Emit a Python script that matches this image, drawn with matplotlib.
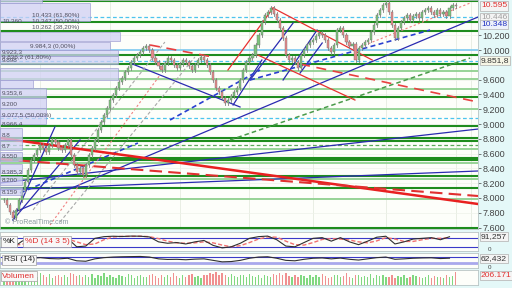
import matplotlib
matplotlib.use('Agg')
import matplotlib.pyplot as plt
import matplotlib.transforms as mtransforms
from matplotlib.patches import Rectangle

plt.rcParams['font.family'] = ['Liberation Sans', 'DejaVu Sans']

# daily closes (index points)
closes = [7973, 7906, 7811, 7730, 7838, 7973, 8108, 8217,
          8379, 8514, 8581, 8649, 8716, 8676, 8622, 8716, 8784, 8757, 8676, 8649, 8716, 8784,
          8581, 8446, 8352, 8406, 8311, 8446,
          8581, 8676, 8784, 8919, 9027, 9122, 9216, 9325, 9392, 9487, 9568, 9622, 9703, 9757,
          9838, 9892, 9932, 9973, 10027, 10054, 10000,
          9892, 9838, 9784, 9730, 9824, 9892, 9865, 9797, 9757, 9811, 9865, 9838, 9784, 9730,
          9797, 9865, 9905, 9865, 9797,
          9703, 9595, 9487, 9433, 9352, 9284, 9325, 9379, 9433, 9487, 9595,
          9730, 9838, 9892, 9932, 10068, 10203, 10378, 10473, 10514, 10567,
          10486, 10405, 10297, 10162, 9932, 9865, 9892, 9838, 9757,
          9932, 10000, 10068, 10108, 10135, 10189, 10230, 10203, 10135, 10027, 9973, 10068,
          10270, 10297,
          10203, 10108, 10054, 10081, 9865, 10027, 10068, 10108, 10135,
          10243, 10338, 10473, 10540, 10608, 10635, 10514, 10338, 10162,
          10297, 10378, 10432, 10473, 10405, 10459, 10486, 10432, 10514, 10540, 10567, 10514,
          10473, 10540, 10486, 10514, 10459, 10567, 10608, 10595]

# volume, thousands
vols = [150, 120, 180, 160, 140, 130, 170, 150, 110, 160,
        140, 120, 180, 150, 130, 170, 110, 140, 160, 120,
        150, 130, 190, 170, 140, 160, 120, 150, 130, 170,
        110, 160, 140, 180, 120, 150, 130, 100, 160, 140,
        120, 170, 150, 110, 140, 160, 130, 120, 150, 170,
        140, 110, 160, 130, 150, 120, 180, 140, 100, 160,
        130, 150, 170, 120, 140, 110, 160, 150, 190, 170,
        200, 160, 180, 150, 130, 170, 140, 120, 160, 150,
        130, 170, 140, 120, 160, 110, 150, 140, 130, 170,
        160, 180, 150, 190, 140, 130, 160, 120, 150, 140,
        110, 160, 130, 150, 120, 170, 140, 100, 130, 160,
        150, 120, 140, 180, 130, 110, 160, 150, 120, 140,
        130, 170, 110, 150, 140, 160, 120, 130, 150, 100,
        140, 120, 160, 110, 130, 150, 140, 120, 100, 130,
        150, 110, 140, 120, 130, 100, 150, 120, 140, 206]

# stochastic %K / %D and RSI, one value every 3 sessions
k_line = [40, 15, 60, 85, 90, 75, 70, 80, 20, 25, 80, 92, 95, 93, 96, 95, 90, 55, 45, 50,
          40, 55, 65, 30, 12, 20, 45, 80, 92, 96, 70, 25, 20, 50, 80, 85, 60, 85, 55, 35,
          60, 88, 95, 40, 55, 75, 80, 85, 70, 91.257]
d_line = [45, 30, 38, 55, 80, 85, 78, 75, 55, 35, 40, 70, 90, 94, 94, 95, 92, 78, 60, 48,
          45, 48, 55, 48, 32, 20, 28, 50, 75, 90, 88, 60, 35, 32, 50, 72, 78, 75, 68, 55,
          48, 62, 85, 75, 58, 58, 70, 80, 80, 85]
rsi_line = [45, 35, 50, 62, 66, 60, 58, 62, 45, 42, 58, 66, 70, 72, 73, 74, 70, 58, 54, 55,
            52, 56, 58, 48, 38, 40, 48, 62, 70, 72, 62, 48, 45, 55, 62, 64, 58, 63, 55, 50,
            58, 66, 70, 55, 58, 62, 64, 65, 60, 62.432]

# horizontal levels
levels_dark = [10666, 10378, 10257, 9932, 9811, 9365, 8973, 8811, 8770, 8541, 8514,
               8297, 8135, 7595]
levels_light = [9716, 9608, 9473, 9203, 8662, 8473, 8257, 7986]
levels_fib = [10446, 9851.8, 9077.5]
level_round = 10000

# trendlines: (i0, p0, i1, p1)
blue_lines = [(3.6, 7811, 156.4, 10446), (3.0, 7703, 16.8, 8959), (3.0, 7703, 25.1, 8784),
              (-1.3, 8203, 156.4, 8932), (-1.3, 8108, 156.4, 8365), (41.6, 9824, 77.9, 9230),
              (75.6, 9257, 85.1, 9865), (81.2, 9595, 95.4, 10365), (92.1, 9595, 103.3, 10270),
              (97.7, 9689, 105.0, 10095)]
blue_dashed = [(54.8, 9054, 84.5, 9730), (81.2, 9595, 140.6, 10270), (5.3, 8068, 44.2, 8743)]
red_lines = [(73.9, 9730, 88.8, 10568), (88.8, 10568, 121.5, 9865), (83.8, 9932, 115.8, 9324)]
red_dashed = [(97.7, 9811, 156.4, 9297), (48.2, 10068, 69.0, 9905)]
red_dotted = [(15.2, 7635, 51.5, 9662), (117.5, 10041, 153.8, 10635)]
gray_dashed = [(9.6, 7838, 53.1, 10108), (18.5, 7676, 63.0, 9905)]
green_dashed = [(74.6, 8784, 153.8, 9892)]

# fibonacci label boxes: (right edge px, top price, bottom price, texts)
fib_boxes = [(42, 10703, 10635, []),
             (90, 10635, 10392, [(2, 10392, '10.360'), (32, 10473, '10.433 (61,80%)'),
                                 (32, 10392, '10.347 (50,00%)'), (32, 10311, '10.262 (38,20%)')]),
             (120, 10243, 10122, []),
             (110, 10108, 10000, [(30, 10054, '9.984,3 (0,00%)')]),
             (118, 10000, 9919, [(2, 9980, '9.923,3')]),
             (118, 9919, 9811, [(2, 9905, '9.836,2 (61,80%)'), (2, 9862, '9.898')]),
             (118, 9757, 9595, []),
             (33, 9595, 9486, []),
             (46, 9486, 9351, [(2, 9420, '9.353,6')]),
             (46, 9351, 9216, [(2, 9270, '9.200')]),
             (46, 9216, 9108, [(2, 9120, '9.077,5 (50,00%)')]),
             (46, 9108, 9000, [(2, 9000, '8.966,4')]),
             (22, 8946, 8784, [(2, 8840, '8.8')]),
             (22, 8784, 8649, [(2, 8700, '8.7')]),
             (22, 8622, 8500, [(2, 8555, '8.550')]),
             (22, 8460, 8340, [(2, 8360, '8.385,3')]),
             (22, 8300, 8180, [(2, 8230, '8.200')]),
             (22, 8150, 8040, [(2, 8080, '8.159')])]

W, H = 512, 288
fig = plt.figure(figsize=(W / 100, H / 100), dpi=100)
fig.patch.set_facecolor('#e4f8f8')
plot_w = 478 / W
xlim = (-1.3, 156.4)


def panel(y_top, y_bot):
    ax = fig.add_axes([0, 1 - y_bot / H, plot_w, (y_bot - y_top) / H])
    ax.set_facecolor('#fdfefa')
    ax.set_xlim(*xlim)
    for s in ax.spines.values():
        s.set_color('#b8c4c4')
        s.set_linewidth(0.6)
    ax.set_xticks([])
    ax.yaxis.tick_right()
    ax.tick_params(axis='y', labelsize=6.5, colors='#444', length=2, pad=1, width=0.5)
    return ax


def badge(ax, y, text, color='#333', face='#f4f4f4', size=6.1):
    ax.text(1.006, y, text, transform=mtransforms.blended_transform_factory(ax.transAxes, ax.transData),
            fontsize=size, color=color, va='center', ha='left', clip_on=False,
            bbox=dict(boxstyle='square,pad=0.12', fc=face, ec='#b0b0b0', lw=0.5))


ax = panel(0, 229)
ax.set_ylim(7581, 10676)
ticks = [7600, 7800, 8000, 8200, 8400, 8600, 8800, 9000, 9200, 9400, 9600, 10000, 10200]
ax.set_yticks(ticks)
ax.set_yticklabels([f'{t:,.0f}'.replace(',', '.') for t in ticks])
for gx in [12, 35, 58, 81, 102, 126, 149, 154]:
    ax.axvline(gx, color='#e6ece0', lw=0.6, zorder=0)
for t in ticks:
    ax.axhline(t, color='#eef2ea', lw=0.5, zorder=0)

for lv in levels_light:
    ax.axhline(lv, color='#8fd08f', lw=1.3, zorder=1)
for lv in levels_dark:
    ax.axhline(lv, color='#1e8c1e', lw=1.5, zorder=1)
for lv in levels_fib:
    ax.axhline(lv, color='#4cc4ee', lw=0.9, ls=(0, (3, 2)), zorder=1)
ax.axhline(level_round, color='#7cc8f0', lw=1.2, zorder=1)
ax.axhline(8716, color='#5aa85a', lw=0.9, ls=(0, (3, 2)), zorder=1)

for seg in blue_lines:
    ax.plot(seg[0::2], seg[1::2], color='#2a2ab0', lw=0.9, zorder=2)
for seg in blue_dashed:
    ax.plot(seg[0::2], seg[1::2], color='#2a40d0', lw=1.2, ls=(0, (3, 2)), zorder=2)
for seg in red_lines:
    ax.plot(seg[0::2], seg[1::2], color='#e83030', lw=0.9, zorder=2)
for seg in red_dashed:
    ax.plot(seg[0::2], seg[1::2], color='#e84040', lw=1.2, ls=(0, (6, 4)), zorder=2)
for seg in red_dotted:
    ax.plot(seg[0::2], seg[1::2], color='#f08080', lw=0.8, ls=(0, (2, 2)), zorder=2)
for seg in gray_dashed:
    ax.plot(seg[0::2], seg[1::2], color='#a8a8a8', lw=0.8, ls=(0, (3, 2)), zorder=2)
for seg in green_dashed:
    ax.plot(seg[0::2], seg[1::2], color='#4a9a4a', lw=1.1, ls=(0, (3, 2)), zorder=2)
ax.plot([-1.3, 156.4], [8811, 7919], color='#e82020', lw=1.8, zorder=2)
ax.plot([-1.3, 156.4], [8527, 8027], color='#e03030', lw=1.5, ls=(0, (6, 3)), zorder=2)

# candles
opens = [closes[0]] + closes[:-1]
for i, (o, c) in enumerate(zip(opens, closes)):
    up = c >= o
    lo, hi = min(o, c), max(o, c)
    ax.plot([i, i], [lo - 30, hi + 30], color='#808080', lw=0.6, zorder=3)
    ax.add_patch(Rectangle((i - 0.35, lo), 0.7, max(hi - lo, 6),
                           fc='#7cc47c' if up else '#e88a8a', ec='#707070', lw=0.3, zorder=4))

# fibonacci boxes on the left
bt = mtransforms.blended_transform_factory(ax.transAxes, ax.transData)
for right, top, bot, texts in fib_boxes:
    ax.add_patch(Rectangle((0, bot), right / 478, top - bot, transform=bt,
                           fc='#d0d0f4', ec='#9a9ad0', lw=0.6, alpha=0.75, zorder=5))
    for tx, ty, s in texts:
        ax.text(tx / 478, ty, s, transform=bt, fontsize=4.6, color='#505060',
                va='center', ha='left', zorder=6)
ax.text(0.01, 7650, '© ProRealTime.com', transform=bt, fontsize=5, color='#8a9aa0', zorder=6)

badge(ax, 10595, '10.595', color='#e03030')
badge(ax, 10446, '10.446', color='#a0a0a0')
badge(ax, 10348, '10.348', color='#2030c0', face='#eef2fa')
badge(ax, 9851.8, '9.851,8', color='#333', face='#f6f6e6')

osc_x = list(range(0, 150, 3))

# stochastic
ax2 = panel(232, 251)
ax2.set_ylim(-10, 125)
ax2.set_yticks([])
ax2.axhline(80, color='#3a3ac8', lw=0.8)
ax2.axhline(20, color='#3a3ac8', lw=0.8)
ax2.plot(osc_x, d_line, color='#f07070', lw=1.0, ls=(0, (3, 1.5)))
ax2.plot(osc_x, k_line, color='#303030', lw=0.8)
ax2.text(0.005, 0.5, '%K', transform=ax2.transAxes, fontsize=6, color='#222', va='center',
         bbox=dict(boxstyle='square,pad=0.2', fc='#f8f8f8', ec='#a0a0a0', lw=0.5))
ax2.text(0.052, 0.5, '%D (14 3 5)', transform=ax2.transAxes, fontsize=6, color='#e03030',
         va='center', bbox=dict(boxstyle='square,pad=0.2', fc='#f8f8f8', ec='#a0a0a0', lw=0.5))
badge(ax2, 91.257, '91,257')
ax2.text(1.02, 2, '0', transform=mtransforms.blended_transform_factory(ax2.transAxes, ax2.transData),
         fontsize=4.5, color='#444', va='center', clip_on=False)

# RSI
ax3 = panel(253, 268)
ax3.set_ylim(-3, 97)
ax3.set_yticks([])
ax3.axhline(70, color='#3a3ac8', lw=0.8)
ax3.axhline(30, color='#a8a8ec', lw=2.0)
ax3.plot(osc_x, rsi_line, color='#303030', lw=0.8)
ax3.text(0.008, 0.55, 'RSI (14)', transform=ax3.transAxes, fontsize=6, color='#222', va='center',
         bbox=dict(boxstyle='square,pad=0.2', fc='#f8f8f8', ec='#a0a0a0', lw=0.5))
badge(ax3, 62.432, '62,432')
ax3.text(1.02, -2, '0', transform=mtransforms.blended_transform_factory(ax3.transAxes, ax3.transData),
         fontsize=4.5, color='#444', va='center', clip_on=False)

# volume
ax4 = panel(270, 285)
ax4.set_ylim(0, 230)
ax4.set_yticks([])
vol_colors = ['#80d880' if c >= o else '#f09090' for o, c in zip(opens, closes)]
ax4.bar(range(len(vols)), vols, width=0.45, color=vol_colors)
ax4.text(0.005, 0.6, 'Volumen', transform=ax4.transAxes, fontsize=6, color='#e03030', va='center',
         bbox=dict(boxstyle='square,pad=0.2', fc='#f8f8f8', ec='#a0a0a0', lw=0.5))
badge(ax4, 140, '206.171', color='#e03030')

fig.savefig('out.png', dpi=100, facecolor=fig.get_facecolor())
